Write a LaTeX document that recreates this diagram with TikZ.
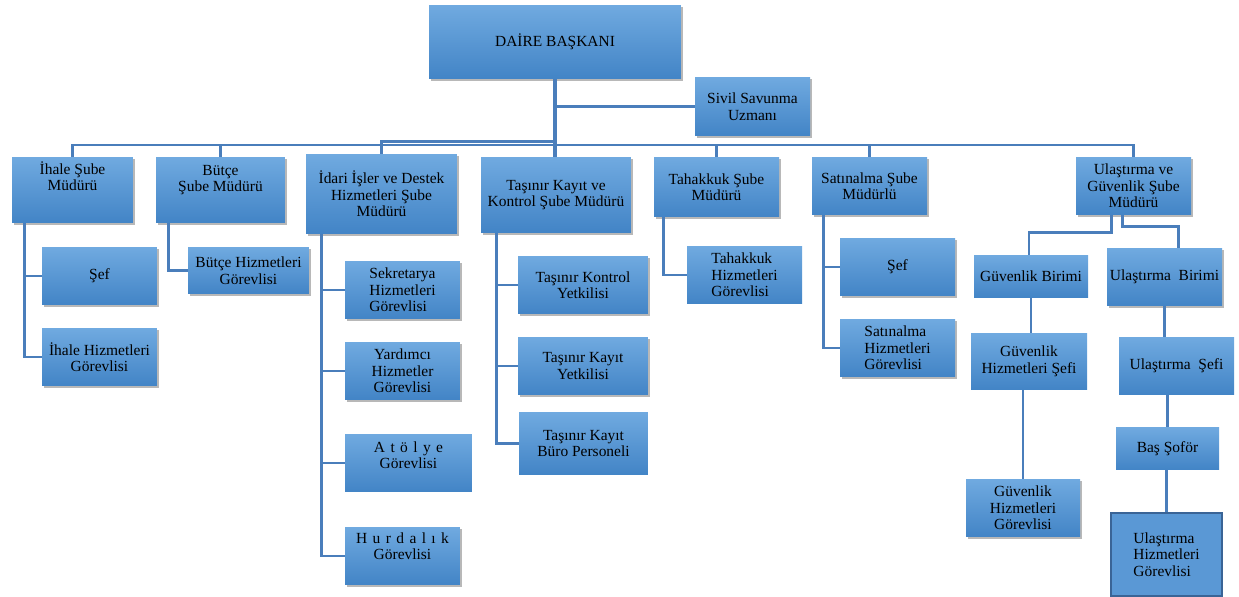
\documentclass[tikz,border=0pt]{standalone}
\usepackage{fontspec}
\setmainfont{Liberation Serif}
\usepackage{xcolor}
\usepackage{tikz}
\usetikzlibrary{shadows,calc}

\definecolor{boxtop}{RGB}{112,170,224}
\definecolor{boxbot}{RGB}{66,132,198}
\definecolor{boxflat}{RGB}{90,152,213}
\definecolor{linkblue}{RGB}{74,126,187}
\definecolor{edgeblue}{RGB}{58,100,150}

\tikzset{
	unit/.style={top color=boxtop, bottom color=boxbot, align=center, inner sep=1pt,
		font=\fontsize{8.8}{9.4}\selectfont,
		drop shadow={shadow xshift=1pt, shadow yshift=-1.3pt, fill=black, opacity=0.28}},
	flatunit/.style={top color=boxtop, bottom color=boxbot, align=center, inner sep=1pt,
		font=\fontsize{8.8}{9.4}\selectfont},
	link/.style={draw=linkblue, line width=1.6pt},
	spaced/.style={execute at begin node={\spaceskip=0.35em}}
}

\begin{document}
\begin{tikzpicture}[x=0.02cm, y=-0.02cm]
			\useasboundingbox (0,0) rectangle (1239,597);
			
			% head
			\node[unit, minimum width=5.04cm, minimum height=1.48cm] (daire) at (555,42) {DAİRE BAŞKANI};
			\node[unit, minimum width=2.3cm, minimum height=1.18cm] (sivil) at (752.5,106.5) {Sivil Savunma\\Uzmanı};
			
			% branches
			\node[unit, minimum width=2.42cm, minimum height=1.32cm] (ihale) at (72.5,190) {İhale Şube\\Müdürü\\[6.2pt]\mbox{}};
			\node[unit, minimum width=2.58cm, minimum height=1.32cm] (butce) at (220.5,190) {Bütçe\\Şube Müdürü\\[4pt]\mbox{}};
			\node[unit, minimum width=3.02cm, minimum height=1.6cm] (idari) at (381.5,194) {İdari İşler ve Destek\\Hizmetleri Şube\\Müdürü};
			\node[unit, minimum width=3cm, minimum height=1.52cm] (tasinir) at (556,195) {Taşınır Kayıt ve\\Kontrol Şube Müdürü};
			\node[unit, minimum width=2.5cm, minimum height=1.2cm] (tahakkuk) at (716.5,187) {Tahakkuk Şube\\Müdürü};
			\node[unit, minimum width=2.3cm, minimum height=1.16cm] (satin) at (869.5,186) {Satınalma Şube\\Müdürlü};
			\node[unit, minimum width=2.3cm, minimum height=1.16cm] (ulas) at (1133.5,186) {Ulaştırma ve\\Güvenlik Şube\\Müdürü};
			
			% units
			\node[unit, minimum width=2.3cm, minimum height=1.16cm] (ihalesef) at (99.5,276) {Şef};
			\node[unit, minimum width=2.3cm, minimum height=1.16cm] (ihalehiz) at (99.5,357) {İhale Hizmetleri\\Görevlisi};
			\node[unit, minimum width=2.42cm, minimum height=0.94cm] (butcehiz) at (248.5,270.5) {Bütçe Hizmetleri\\Görevlisi};
			\node[unit, minimum width=2.3cm, minimum height=1.16cm, align=left] (sekr) at (402.5,290) {Sekretarya\\Hizmetleri\\Görevlisi};
			\node[unit, minimum width=2.3cm, minimum height=1.16cm] (yard) at (402.5,371) {Yardımcı\\Hizmetler\\Görevlisi};
			\node[flatunit, spaced, minimum width=2.54cm, minimum height=1.16cm] (atolye) at (408.5,463) {A t ö l y e\\Görevlisi\\[-0.6pt]\mbox{}};
			\node[unit, spaced, minimum width=2.3cm, minimum height=1.16cm] (hurda) at (402.5,556) {H u r d a l ı k\\Görevlisi\\[1.6pt]\mbox{}};
			\node[unit, minimum width=2.6cm, minimum height=1.16cm] (tkontrol) at (583,285) {Taşınır Kontrol\\Yetkilisi};
			\node[unit, minimum width=2.6cm, minimum height=1.16cm] (tkayit) at (583,366) {Taşınır Kayıt\\Yetkilisi};
			\node[flatunit, minimum width=2.58cm, minimum height=1.26cm] (tburo) at (583.5,443.5) {Taşınır Kayıt\\Büro Personeli};
			\node[flatunit, minimum width=2.3cm, minimum height=1.16cm, align=left] (tahhiz) at (744.5,275) {Tahakkuk\\Hizmetleri\\Görevlisi};
			\node[unit, minimum width=2.3cm, minimum height=1.16cm] (satsef) at (897.5,267) {Şef};
			\node[unit, minimum width=2.3cm, minimum height=1.16cm, align=left] (sathiz) at (897.5,348) {Satınalma\\Hizmetleri\\Görevlisi};
			\node[flatunit, minimum width=2.28cm, minimum height=0.86cm] (guvbir) at (1031,276.5) {Güvenlik Birimi};
			\node[unit, minimum width=2.3cm, minimum height=1.16cm] (ulasbir) at (1164.5,277) {Ulaştırma~ Birimi};
			\node[flatunit, minimum width=2.32cm, minimum height=1.14cm] (guvsef) at (1029,361.5) {Güvenlik\\Hizmetleri Şefi};
			\node[flatunit, minimum width=2.3cm, minimum height=1.16cm] (ulassef) at (1176.5,366) {Ulaştırma~ Şefi};
			\node[flatunit, minimum width=2.06cm, minimum height=0.86cm] (bassofor) at (1167.5,448.5) {Baş Şoför};
			\node[unit, minimum width=2.28cm, minimum height=1.16cm] (guvgor) at (1023,508) {Güvenlik\\Hizmetleri\\Görevlisi};
			\node[draw=edgeblue, line width=1.5pt, fill=boxflat, align=left, inner sep=1pt,
				font=\fontsize{8.8}{9.4}\selectfont, minimum width=2.22cm, minimum height=1.66cm] (ulasgor) at (1166.5,554.5) {Ulaştırma\\Hizmetleri\\Görevlisi};
			
			% connectors
			\coordinate (bus) at (555,145);
			\coordinate (bus2) at (555,141.5);
			\draw[link, line width=2.2pt] (daire.south) -- (daire.south |- tasinir.north);
			\draw[link] (daire.south |- sivil.west) -- (sivil.west);
			\draw[link] (ihale.north) -- (ihale.north |- bus) -- (ulas.north |- bus) -- (ulas.north);
			\draw[link] (idari.north) -- (idari.north |- bus2) -- (bus2);
			\foreach \n in {butce,tahakkuk,satin}
				\draw[link] (\n.north) -- (\n.north |- bus);
			
			\coordinate (ihaletr) at ($(ihale.south west)+(13,0)$);
			\draw[link] (ihaletr) |- (ihalehiz.west);
			\draw[link] (ihalesef.west) -- (ihalesef.west -| ihaletr);
			
			\coordinate (butcetr) at ($(butce.south west)+(13,0)$);
			\draw[link] (butcetr) |- (butcehiz.west);
			
			\coordinate (idaritr) at ($(idari.south west)+(16,0)$);
			\draw[link] (idaritr) |- (hurda.west);
			\foreach \n in {sekr,yard,atolye}
				\draw[link] (\n.west) -- (\n.west -| idaritr);
			
			\coordinate (tasinirtr) at ($(tasinir.south west)+(16,0)$);
			\draw[link] (tasinirtr) |- (tburo.west);
			\foreach \n in {tkontrol,tkayit}
				\draw[link] (\n.west) -- (\n.west -| tasinirtr);
			
			\coordinate (tahakkuktr) at ($(tahakkuk.south west)+(10,0)$);
			\draw[link] (tahakkuktr) |- (tahhiz.west);
			
			\coordinate (satintr) at ($(satin.south west)+(12,0)$);
			\draw[link] (satintr) |- (sathiz.west);
			\draw[link] (satsef.west) -- (satsef.west -| satintr);
			
			\draw[link] ($(ulas.south)+(-22,0)$) -- ++(0,17) -| ($(guvbir.north)+(-2,0)$);
			\draw[link] ($(ulas.south)+(-11,0)$) -- ++(0,11) -| ($(ulasbir.north)+(14,0)$);
			\draw[link] (guvbir.south) -- (guvbir.south |- guvsef.north);
			\draw[link] (guvgor.north) -- (guvgor.north |- guvsef.south);
			\draw[link] (ulasbir.south) -- (ulasbir.south |- ulassef.north);
			\draw[link] (bassofor.north) -- (bassofor.north |- ulassef.south);
			\draw[link] (ulasgor.north) -- (ulasgor.north |- bassofor.south);
		\end{tikzpicture}
\end{document}
